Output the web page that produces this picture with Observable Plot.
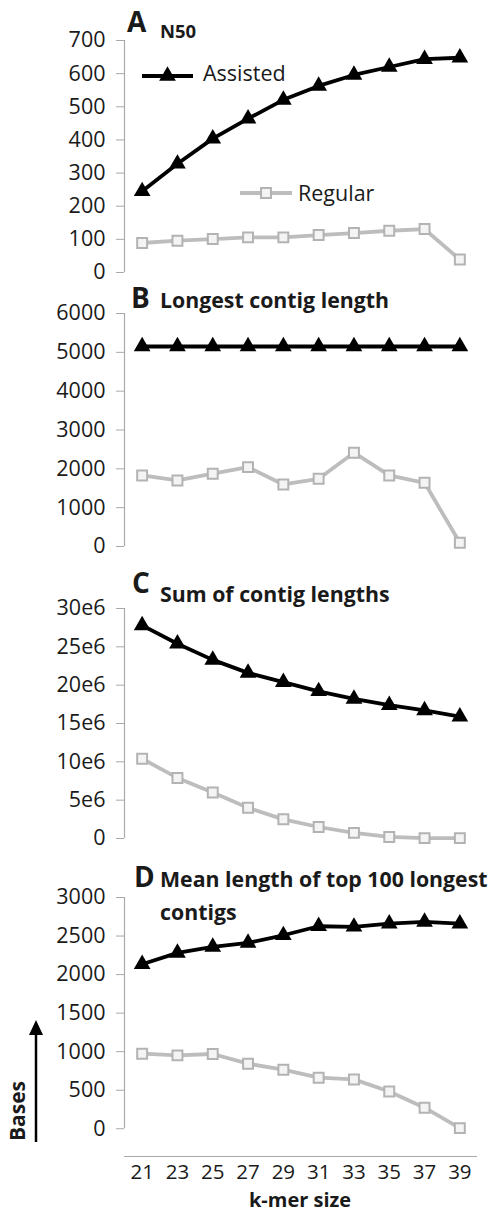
<!DOCTYPE html>
<html>
<head>
<meta charset="utf-8">
<script src="https://cdn.jsdelivr.net/npm/d3@7"></script>
<script src="https://cdn.jsdelivr.net/npm/@observablehq/plot@0.6"></script>
<style>
  html, body { margin: 0; padding: 0; background: #fff; }
  #wrap { position: relative; width: 494px; height: 1214px; overflow: hidden; background: #fff; }
  #overlay { position: absolute; left: 0; top: 0; pointer-events: none; }
</style>
</head>
<body>
<div id="wrap"></div>
<script>
// ---------- data ----------
const kmer = [21, 23, 25, 27, 29, 31, 33, 35, 37, 39];

const n50Assisted = [245, 328, 404, 464, 521, 563, 596, 620, 644, 648];
const n50Regular  = [89, 96, 101, 106, 106, 113, 119, 126, 131, 39];

const longestAssisted = [5150, 5150, 5150, 5150, 5150, 5150, 5150, 5150, 5150, 5150];
const longestRegular  = [1830, 1700, 1874, 2044, 1598, 1744, 2415, 1830, 1641, 95];

const sumAssisted = [27.8e6, 25.4e6, 23.3e6, 21.6e6, 20.4e6, 19.2e6, 18.2e6, 17.4e6, 16.7e6, 15.9e6];
const sumRegular  = [10.4e6, 7.9e6, 6.0e6, 4.0e6, 2.5e6, 1.5e6, 0.73e6, 0.2e6, 0.05e6, 0.05e6];

const meanAssisted = [2134, 2281, 2359, 2410, 2510, 2627, 2620, 2662, 2683, 2662];
const meanRegular  = [974, 952, 970, 844, 766, 662, 640, 484, 273, 8];

const ticksA = [0, 100, 200, 300, 400, 500, 600, 700];
const ticksB = [0, 1000, 2000, 3000, 4000, 5000, 6000];
const ticksC = [0, 5e6, 10e6, 15e6, 20e6, 25e6, 30e6];
const ticksD = [0, 500, 1000, 1500, 2000, 2500, 3000];

const panelLetters = ["A", "B", "C", "D"];
const panelTitles = ["N50", "Longest contig length", "Sum of contig lengths", "Mean length of top 100 longest|contigs"];
const seriesNames = ["Assisted", "Regular"];
const xLabel = "k-mer size";
const yLabel = "Bases";

// ---------- styles ----------
const FONT = "'Open Sans', 'Noto Sans', sans-serif";
const AXIS_GRAY = "#a9a9a9";
const REG_GRAY = "#bdbdbd";
const TEXT = "#1a1a1a";
const TRI_R = 6.2;
const SQ_R = 5.6;

const wrap = document.getElementById("wrap");

function panel(cfg) {
  const rows = (arr, s) => kmer.map((k, i) => ({k, v: arr[i], s}));
  const assisted = rows(cfg.assisted, "Assisted");
  const regular = rows(cfg.regular, "Regular");
  const ymax = cfg.ticks[cfg.ticks.length - 1];
  const marks = [
    Plot.ruleX([20], {y1: 0, y2: ymax, stroke: AXIS_GRAY, strokeWidth: 1.2}),
    Plot.axisY({ticks: cfg.ticks, tickSize: 8, tickFormat: () => "", color: AXIS_GRAY, label: null}),
    Plot.axisY({ticks: cfg.ticks, tickSize: 0, tickPadding: 19, tickFormat: cfg.fmt, color: TEXT, label: null, fontSize: 21.5}),
    Plot.line(regular, {x: "k", y: "v", stroke: REG_GRAY, strokeWidth: 3.8}),
    Plot.dot(regular, {x: "k", y: "v", symbol: "square", r: SQ_R, stroke: "#b3b3b3", strokeWidth: 2, fill: "#f4f4f4"}),
    Plot.line(assisted, {x: "k", y: "v", stroke: "#000", strokeWidth: 3.8}),
    Plot.dot(assisted, {x: "k", y: "v", symbol: "triangle", r: TRI_R, fill: "#000", stroke: "none"})
  ];
  if (cfg.xAxis) {
    marks.push(Plot.ruleY([cfg.ymin], {x1: 20, x2: 40, stroke: AXIS_GRAY, strokeWidth: 1.2}));
    marks.push(Plot.axisX({ticks: kmer, tickSize: 0, tickPadding: 8, color: TEXT, label: null, fontSize: 20.5}));
  }
  const svg = Plot.plot({
    width: 494,
    height: cfg.height,
    marginLeft: 124,
    marginRight: 17,
    marginTop: cfg.mt,
    marginBottom: cfg.mb,
    x: {domain: [20, 40], axis: cfg.xAxis ? undefined : null},
    y: {domain: [cfg.ymin, ymax], nice: false},
    style: {fontFamily: FONT, fontSize: "21.5px", background: "transparent", color: TEXT, overflow: "visible"},
    marks
  });
  svg.style.position = "absolute";
  svg.style.top = cfg.top + "px";
  svg.style.left = "0px";
  wrap.appendChild(svg);
}

panel({top: 0,   height: 280, mt: 40, mb: 8,  ymin: 0, ticks: ticksA, fmt: d => String(d), assisted: n50Assisted, regular: n50Regular});
panel({top: 280, height: 280, mt: 33, mb: 14, ymin: 0, ticks: ticksB, fmt: d => String(d), assisted: longestAssisted, regular: longestRegular});
panel({top: 560, height: 300, mt: 48, mb: 22, ymin: 0, ticks: ticksC, fmt: d => d === 0 ? "0" : (d / 1e6) + "e6", assisted: sumAssisted, regular: sumRegular});
panel({top: 860, height: 354, mt: 37, mb: 58, ymin: -360, ticks: ticksD, fmt: d => String(d), assisted: meanAssisted, regular: meanRegular, xAxis: true});

// ---------- overlay: titles, legend, axis annotations ----------
const ov = d3.select(wrap).append("svg")
  .attr("id", "overlay").attr("width", 494).attr("height", 1214)
  .style("font-family", FONT).style("fill", TEXT);

const letterPos = [[127, 32], [131, 308], [132, 593], [134, 887]];
const titlePos = [[160, 38], [160, 308], [160, 602], [160, 887]];
panelLetters.forEach((L, i) => {
  ov.append("text").attr("x", letterPos[i][0]).attr("y", letterPos[i][1])
    .attr("font-size", 28).attr("font-weight", 700).text(L);
  const lines = panelTitles[i].split("|");
  lines.forEach((t, j) => {
    ov.append("text").attr("x", titlePos[i][0]).attr("y", titlePos[i][1] + j * 33)
      .attr("font-size", i === 0 ? 18.5 : 21.3).attr("font-weight", 700).text(t);
  });
});

// legend (panel A)
const legend = [
  {name: seriesNames[0], x1: 142, x2: 193, y: 76, tx: 203, ty: 81},
  {name: seriesNames[1], x1: 240, x2: 292, y: 193, tx: 298, ty: 201}
];
legend.forEach((l, i) => {
  ov.append("line").attr("x1", l.x1).attr("x2", l.x2).attr("y1", l.y).attr("y2", l.y)
    .attr("stroke", i === 0 ? "#000" : REG_GRAY).attr("stroke-width", 3.8);
  const cx = (l.x1 + l.x2) / 2;
  if (i === 0) {
    ov.append("path").attr("transform", `translate(${cx},${l.y})`)
      .attr("d", d3.symbol(d3.symbolTriangle, Math.PI * TRI_R * TRI_R)()).attr("fill", "#000");
  } else {
    ov.append("path").attr("transform", `translate(${cx},${l.y})`)
      .attr("d", d3.symbol(d3.symbolSquare, Math.PI * SQ_R * SQ_R)())
      .attr("fill", "#f4f4f4").attr("stroke", "#b3b3b3").attr("stroke-width", 2);
  }
  ov.append("text").attr("x", l.tx).attr("y", l.ty).attr("font-size", 21.5).text(l.name);
});

// x label
ov.append("text").attr("x", 300).attr("y", 1207).attr("text-anchor", "middle")
  .attr("font-size", 20).attr("font-weight", 700).text(xLabel);

// y label + arrow
ov.append("text").attr("transform", "translate(25,1111) rotate(-90)").attr("text-anchor", "middle")
  .attr("font-size", 21).attr("font-weight", 700).text(yLabel);
ov.append("line").attr("x1", 36).attr("x2", 36).attr("y1", 1142).attr("y2", 1032)
  .attr("stroke", "#000").attr("stroke-width", 2.5);
ov.append("path").attr("d", "M29,1035 L36,1020 L43,1035 Z").attr("fill", "#000");
</script>
</body>
</html>
